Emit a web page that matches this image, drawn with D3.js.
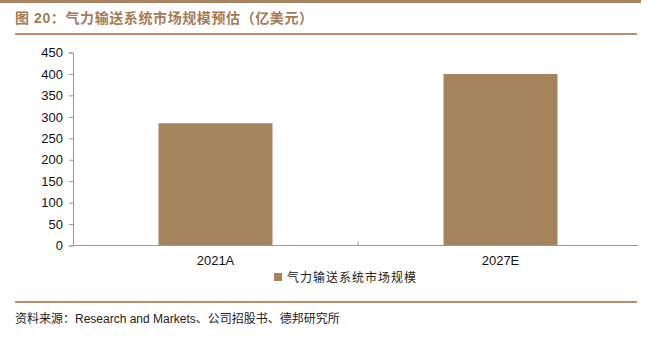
<!DOCTYPE html>
<html><head><meta charset="utf-8">
<script src="https://cdn.jsdelivr.net/npm/d3@7"></script>
<style>body{margin:0;background:#fff;}svg{display:block;}</style>
</head><body>
<svg id="c" width="661" height="341"></svg>
<script>
const categories = ["2021A", "2027E"];
const values = [285, 400];
const yTicks = [0, 50, 100, 150, 200, 250, 300, 350, 400, 450];
const seriesName = "气力输送系统市场规模";
const titleText = "图 20：气力输送系统市场规模预估（亿美元）";
const sourceText = "资料来源：Research and Markets、公司招股书、德邦研究所";

const svg = d3.select("#c");
const brown = "#a5835c";
const mix = "'Liberation Sans', 'Noto Sans CJK SC', sans-serif";
const lat = "'Liberation Sans', Arial, sans-serif";

// top band
svg.append("rect").attr("x",0).attr("y",0).attr("width",641).attr("height",3).attr("fill","#a88462");
// title
svg.append("text").attr("x",15).attr("y",23).attr("font-family",mix).attr("font-weight","bold")
  .attr("font-size",14).attr("letter-spacing",0.6).attr("fill","#a57a55").text(titleText);
svg.append("line").attr("x1",15).attr("x2",637).attr("y1",34).attr("y2",34).attr("stroke","#a8693a").attr("stroke-width",1.3);
// bottom rule
svg.append("line").attr("x1",15).attr("x2",637).attr("y1",302).attr("y2",302).attr("stroke","#a8693a").attr("stroke-width",1.3);
svg.append("text").attr("x",15).attr("y",323).attr("font-family",mix).attr("font-size",12)
  .attr("fill","#222").text(sourceText);

const x = d3.scaleBand().domain(categories).range([73, 643]).paddingInner(0.6).paddingOuter(0.3);
const y = d3.scaleLinear().domain([0, 450]).range([245.5, 52.5]);

// bars
svg.selectAll("rect.bar").data(values).enter().append("rect").attr("class","bar")
  .attr("x",(d,i)=>x(categories[i])).attr("width",x.bandwidth())
  .attr("y",d=>y(d)).attr("height",d=>y(0)-y(d)).attr("fill",brown);

// y axis
const ya = svg.append("g").attr("transform","translate(73,0)")
  .call(d3.axisLeft(y).tickValues(yTicks).tickSize(4).tickPadding(6));
ya.select(".domain").attr("stroke","#999");
ya.selectAll(".tick line").attr("stroke","#999");
ya.selectAll(".tick text").attr("font-family",lat).attr("font-size",13).attr("fill","#111");

// x axis
const xa = svg.append("g").attr("transform","translate(0,245.5)")
  .call(d3.axisBottom(x).tickSize(0).tickPadding(10));
xa.select(".domain").remove();
xa.selectAll(".tick text").attr("font-family",lat).attr("font-size",13).attr("fill","#111");
svg.append("line").attr("x1",73).attr("x2",638).attr("y1",245.5).attr("y2",245.5).attr("stroke","#999");
svg.append("line").attr("x1",358).attr("x2",358).attr("y1",241.5).attr("y2",245.5).attr("stroke","#999");

// legend
svg.append("rect").attr("x",274).attr("y",273).attr("width",8).attr("height",8).attr("fill",brown);
svg.append("text").attr("x",287).attr("y",281.5).attr("font-family",mix).attr("font-size",12)
  .attr("letter-spacing",1).attr("fill","#222").text(seriesName);
</script>
</body></html>
